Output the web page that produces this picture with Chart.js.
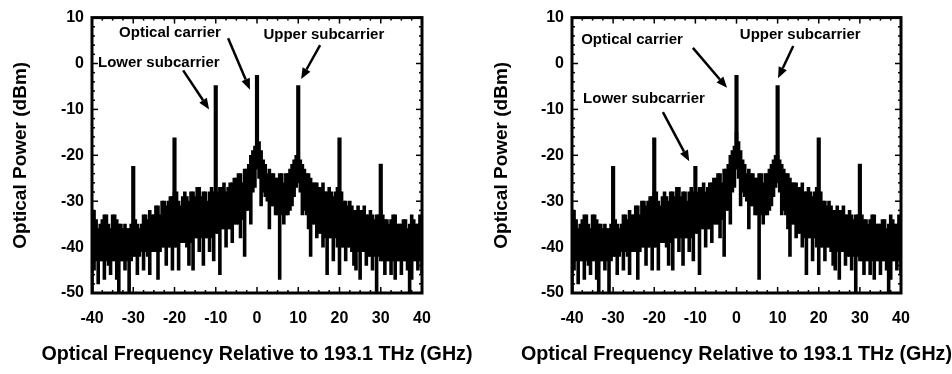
<!DOCTYPE html>
<html>
<head>
<meta charset="utf-8">
<script src="https://cdn.jsdelivr.net/npm/chart.js@4/dist/chart.umd.min.js"></script>
<style>
  html, body { margin: 0; padding: 0; background: #fff; }
  #wrap { position: relative; width: 952px; height: 374px; }
  canvas { position: absolute; top: 0; }
  #left { left: 0; }
  #right { left: 476px; }
</style>
</head>
<body>
<div id="wrap">
  <canvas id="left" width="476" height="374"></canvas>
  <canvas id="right" width="476" height="374"></canvas>
</div>
<script>
// spectrum sampled every 0.5 GHz from -40 to +40 GHz
const freqStart = -40;
const freqStep = 0.5;

// top of the noise trace (dBm)
const noiseTop = [
  -32, -32, -34, -36, -35, -34, -33, -33, -35, -36,
  -33, -33, -34, -35, -35, -36, -35, -36, -36, -35,
  -35, -34, -35, -36, -35, -33, -33, -34, -32, -33,
  -33, -31, -31, -33, -30, -30, -31, -30, -29, -29,
  -28, -28, -30, -31, -29, -28, -29, -30, -28, -28,
  -29, -27, -27, -29, -28, -28, -30, -28, -27, -28,
  -29, -28, -27, -27, -26, -28, -27, -26, -26, -25,
  -25, -24, -24, -26, -23, -23, -22, -20, -19, -18,
  -15, -17, -19, -21, -22, -24, -23, -24, -24, -25,
  -25, -24, -24, -26, -24, -24, -23, -22, -21, -20,
  -20, -21, -22, -23, -24, -24, -25, -26, -26, -26,
  -27, -27, -26, -28, -28, -27, -28, -29, -28, -27,
  -28, -28, -30, -30, -31, -30, -31, -32, -32, -31,
  -32, -32, -31, -33, -33, -32, -33, -34, -33, -33,
  -32, -33, -34, -34, -35, -34, -33, -33, -35, -35,
  -35, -34, -34, -36, -35, -33, -34, -35, -35, -33, -34
];

// bottom of the noise trace (dBm)
const noiseBottom = [
  -50, -45, -43, -48, -43, -43, -47, -43, -44, -46,
  -43, -43, -47, -50, -43, -43, -45, -43, -50, -43,
  -42, -42, -46, -42, -41, -45, -41, -42, -46, -41,
  -41, -41, -47, -41, -40, -40, -44, -40, -40, -45,
  -40, -40, -45, -39, -39, -39, -40, -44, -39, -45,
  -38, -38, -41, -38, -44, -38, -38, -41, -38, -43,
  -37, -37, -46, -36, -36, -40, -36, -36, -39, -35,
  -35, -35, -38, -34, -42, -32, -32, -35, -28, -27,
  -23, -25, -31, -28, -29, -30, -36, -31, -31, -33,
  -33, -47, -33, -35, -33, -33, -32, -31, -29, -27,
  -26, -28, -33, -32, -33, -36, -42, -35, -35, -38,
  -37, -37, -40, -38, -46, -38, -38, -43, -38, -40,
  -46, -40, -40, -43, -40, -40, -41, -44, -45, -41,
  -47, -41, -41, -44, -42, -42, -45, -42, -50, -42,
  -43, -43, -46, -43, -43, -46, -43, -47, -43, -43,
  -46, -43, -43, -45, -50, -47, -43, -43, -45, -43, -46
];

// carrier and sidebands
const peakFreq = [-30, -20, -10, 0, 10, 20, 30];
const peakBase = [-36, -30, -30, -20, -22, -30, -34];
const peakTopLeft = [-22.4, -16.2, -4.8, -2.6, -4.8, -16.2, -21.9];
const peakTopRight = [-22.4, -16.2, -22.4, -2.6, -4.8, -16.2, -21.9];

const xTitle = "Optical Frequency Relative to 193.1 THz (GHz)";
const yTitle = "Optical Power (dBm)";

const FONT = '"Liberation Sans", Arial, Helvetica, sans-serif';

const leftNotes = [
  { text: "Optical carrier", x: -21.1, y: 6.6 },
  { text: "Upper subcarrier", x: 16.2, y: 6.2 },
  { text: "Lower subcarrier", x: -23.8, y: 0.2 }
];
const leftArrows = [
  [-17.9, -1.5, -11.6, -10],
  [-7.0, 5.5, -1.7, -5.7],
  [15.3, 4.0, 10.7, -3.4]
];
const rightNotes = [
  { text: "Optical carrier", x: -25.4, y: 5.1 },
  { text: "Upper subcarrier", x: 15.5, y: 6.2 },
  { text: "Lower subcarrier", x: -22.5, y: -7.7 }
];
const rightArrows = [
  [-10.6, 3.4, -2.3, -5.3],
  [13.8, 3.8, 10.1, -3.2],
  [-17.9, -10.6, -11.5, -21.3]
];

function line(ctx, x1, y1, x2, y2) {
  ctx.beginPath();
  ctx.moveTo(x1, y1);
  ctx.lineTo(x2, y2);
  ctx.stroke();
}

// thick frame with inward ticks on all four sides
const framePlugin = {
  id: "frame",
  afterDatasetsDraw(chart) {
    const ctx = chart.ctx;
    const { left, right, top, bottom } = chart.chartArea;
    const xs = chart.scales.x, ys = chart.scales.y;
    ctx.save();
    ctx.strokeStyle = "#000";
    ctx.lineWidth = 1.5;
    for (let v = -40; v <= 40; v += 2.5) {
      const px = xs.getPixelForValue(v);
      const len = v % 10 === 0 ? 6 : 3;
      line(ctx, px, bottom, px, bottom - len);
      line(ctx, px, top, px, top + len);
    }
    for (let v = -50; v <= 10; v += 2) {
      const py = ys.getPixelForValue(v);
      const len = v % 10 === 0 ? 6 : 3;
      line(ctx, left, py, left + len, py);
      line(ctx, right, py, right - len, py);
    }
    ctx.lineWidth = 3;
    ctx.strokeRect(left, top, right - left, bottom - top);
    ctx.restore();
  }
};

// labels, arrows and the x title (drawn here so it is not squeezed to the axis width)
const notesPlugin = {
  id: "notes",
  afterDraw(chart, args, opts) {
    const ctx = chart.ctx;
    const xs = chart.scales.x, ys = chart.scales.y;
    const { left, right } = chart.chartArea;
    ctx.save();
    ctx.fillStyle = "#000";
    ctx.strokeStyle = "#000";
    ctx.textAlign = "center";
    ctx.textBaseline = "middle";
    ctx.font = "bold 19.7px " + FONT;
    ctx.fillText(xTitle, (left + right) / 2, 355);
    ctx.font = "bold 15px " + FONT;
    opts.notes.forEach(n => {
      ctx.fillText(n.text, xs.getPixelForValue(n.x), ys.getPixelForValue(n.y));
    });
    opts.arrows.forEach(a => {
      const x1 = xs.getPixelForValue(a[0]), y1 = ys.getPixelForValue(a[1]);
      const x2 = xs.getPixelForValue(a[2]), y2 = ys.getPixelForValue(a[3]);
      const ang = Math.atan2(y2 - y1, x2 - x1);
      const head = 11, wing = 4.5;
      const bx = x2 - head * Math.cos(ang), by = y2 - head * Math.sin(ang);
      ctx.lineWidth = 2.5;
      line(ctx, x1, y1, bx, by);
      ctx.beginPath();
      ctx.moveTo(x2, y2);
      ctx.lineTo(bx + wing * Math.sin(ang), by - wing * Math.cos(ang));
      ctx.lineTo(bx - wing * Math.sin(ang), by + wing * Math.cos(ang));
      ctx.closePath();
      ctx.fill();
    });
    ctx.restore();
  }
};

function makePanel(id, peakTop, notes, arrows, pad) {
  const noise = noiseTop.map((t, i) => ({ x: freqStart + i * freqStep, y: [noiseBottom[i], t] }));
  const peaks = peakFreq.map((f, i) => ({ x: f, y: [peakBase[i], peakTop[i]] }));
  const tickFont = { family: FONT, size: 16, weight: "bold" };
  const titleFont = { family: FONT, size: 19, weight: "bold" };

  return new Chart(document.getElementById(id), {
    type: "bar",
    data: {
      datasets: [
        { data: noise, backgroundColor: "#000", borderWidth: 0, grouped: false,
          barThickness: 2.8, inflateAmount: 0.4 },
        { data: peaks, backgroundColor: "#000", borderWidth: 0, grouped: false,
          barThickness: 3.5 }
      ]
    },
    options: {
      responsive: false,
      animation: false,
      devicePixelRatio: 1,
      events: [],
      layout: { padding: { left: pad.left, right: pad.right, top: 11, bottom: 0 } },
      plugins: {
        legend: { display: false },
        tooltip: { enabled: false },
        notes: { notes: notes, arrows: arrows }
      },
      scales: {
        x: {
          type: "linear", min: -40, max: 40, offset: false,
          grid: { display: false, drawTicks: false, offset: false },
          border: { display: false },
          ticks: { stepSize: 10, padding: 16, color: "#000", font: tickFont, maxRotation: 0, autoSkip: false },
          afterFit: s => { s.height = 81; }
        },
        y: {
          type: "linear", min: -50, max: 10,
          grid: { display: false, drawTicks: false },
          border: { display: false },
          ticks: { stepSize: 10, padding: 8, color: "#000", font: tickFont },
          title: { display: true, text: yTitle, color: "#000", font: titleFont, padding: { top: 0, bottom: 0 } },
          afterFit: s => { s.width = pad.axis; }
        }
      }
    },
    plugins: [framePlugin, notesPlugin]
  });
}

makePanel("left", peakTopLeft, leftNotes, leftArrows, { left: 9, right: 54, axis: 83 });
makePanel("right", peakTopRight, rightNotes, rightArrows, { left: 14, right: 51, axis: 82 });
</script>
</body>
</html>
